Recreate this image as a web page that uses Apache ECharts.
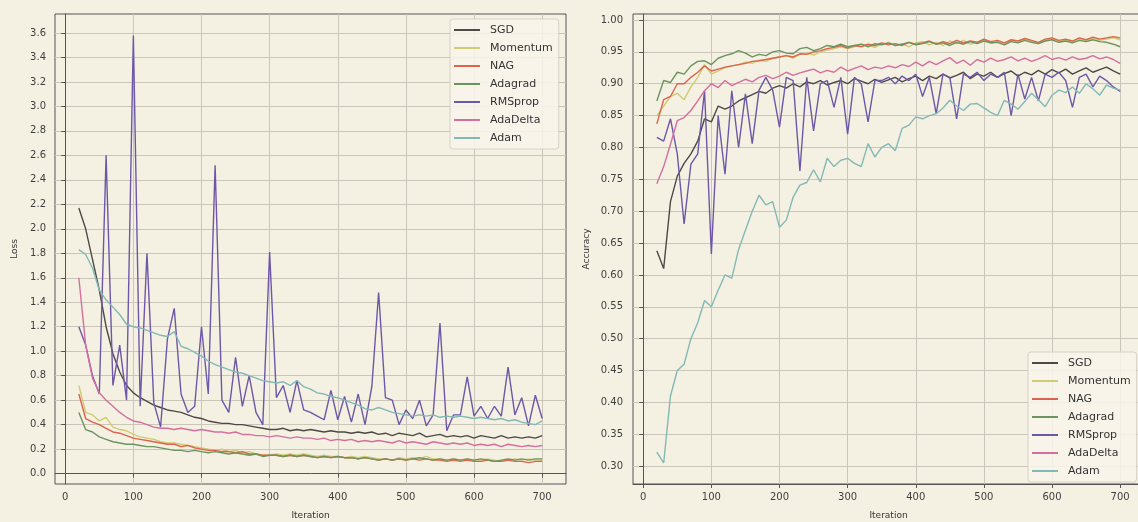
<!DOCTYPE html>
<html>
<head>
<meta charset="utf-8">
<script src="https://cdn.jsdelivr.net/npm/echarts@6/dist/echarts.min.js"></script>
<style>
  html, body { margin: 0; padding: 0; background: #f4f0e2; }
  #chart { width: 1138px; height: 522px; }
</style>
</head>
<body>
<div id="chart"></div>
<script>
  // iterations (x values)
  const iterations = [
    20, 30, 40, 50, 60, 70, 80, 90, 100, 110,
    120, 130, 140, 150, 160, 170, 180, 190, 200, 210,
    220, 230, 240, 250, 260, 270, 280, 290, 300, 310,
    320, 330, 340, 350, 360, 370, 380, 390, 400, 410,
    420, 430, 440, 450, 460, 470, 480, 490, 500, 510,
    520, 530, 540, 550, 560, 570, 580, 590, 600, 610,
    620, 630, 640, 650, 660, 670, 680, 690, 700,
  ]
  const xTicks = [0, 100, 200, 300, 400, 500, 600, 700]
  const optimizers = ['SGD', 'Momentum', 'NAG', 'Adagrad', 'RMSprop', 'AdaDelta', 'Adam']
  const colors = ['#4b4a47', '#cfcb74', '#dc634c', '#6b9461', '#6f57a8', '#d46f9f', '#82b9b6']

  // ---- loss ----
  const lossSGD = [
    2.17, 2.0, 1.75, 1.5, 1.2, 0.98, 0.83, 0.72, 0.66, 0.62,
    0.59, 0.56, 0.54, 0.52, 0.51, 0.5, 0.48, 0.46, 0.45, 0.43,
    0.42, 0.41, 0.41, 0.40, 0.40, 0.39, 0.38, 0.37, 0.36, 0.36,
    0.37, 0.35, 0.36, 0.35, 0.36, 0.35, 0.34, 0.35, 0.34, 0.34,
    0.33, 0.34, 0.33, 0.34, 0.32, 0.33, 0.31, 0.33, 0.32, 0.31,
    0.33, 0.30, 0.31, 0.32, 0.30, 0.31, 0.30, 0.31, 0.29, 0.31,
    0.30, 0.29, 0.31, 0.29, 0.30, 0.29, 0.30, 0.29, 0.31,
  ]
  const lossMomentum = [
    0.72, 0.5, 0.48, 0.43, 0.46, 0.38, 0.36, 0.35, 0.32, 0.30,
    0.29, 0.28, 0.26, 0.25, 0.25, 0.24, 0.23, 0.22, 0.21, 0.20,
    0.19, 0.20, 0.18, 0.19, 0.17, 0.18, 0.16, 0.15, 0.15, 0.16,
    0.15, 0.16, 0.15, 0.16, 0.15, 0.14, 0.15, 0.14, 0.14, 0.13,
    0.14, 0.13, 0.14, 0.13, 0.12, 0.12, 0.11, 0.13, 0.12, 0.13,
    0.12, 0.14, 0.12, 0.12, 0.11, 0.12, 0.11, 0.12, 0.11, 0.11,
    0.12, 0.11, 0.10, 0.11, 0.12, 0.11, 0.12, 0.11, 0.11,
  ]
  const lossNAG = [
    0.65, 0.45, 0.42, 0.40, 0.37, 0.34, 0.33, 0.31, 0.29, 0.28,
    0.27, 0.26, 0.25, 0.24, 0.24, 0.22, 0.23, 0.21, 0.20, 0.19,
    0.19, 0.18, 0.18, 0.17, 0.18, 0.16, 0.16, 0.15, 0.15, 0.15,
    0.14, 0.15, 0.14, 0.15, 0.14, 0.13, 0.14, 0.13, 0.14, 0.13,
    0.13, 0.12, 0.13, 0.12, 0.11, 0.12, 0.11, 0.12, 0.11, 0.12,
    0.11, 0.12, 0.11, 0.11, 0.10, 0.11, 0.10, 0.11, 0.10, 0.10,
    0.11, 0.10, 0.10, 0.11, 0.10, 0.10, 0.09, 0.10, 0.10,
  ]
  const lossAdagrad = [
    0.5, 0.36, 0.34, 0.30, 0.28, 0.26, 0.25, 0.24, 0.24, 0.23,
    0.22, 0.22, 0.21, 0.20, 0.19, 0.19, 0.18, 0.19, 0.18, 0.17,
    0.18, 0.17, 0.16, 0.17, 0.16, 0.15, 0.16, 0.14, 0.15, 0.15,
    0.14, 0.15, 0.14, 0.15, 0.14, 0.13, 0.14, 0.13, 0.14, 0.13,
    0.13, 0.12, 0.13, 0.12, 0.11, 0.12, 0.11, 0.12, 0.11, 0.12,
    0.13, 0.12, 0.11, 0.12, 0.11, 0.12, 0.11, 0.12, 0.11, 0.12,
    0.11, 0.10, 0.11, 0.12, 0.11, 0.12, 0.11, 0.12, 0.12,
  ]
  const lossRMSprop = [
    1.2, 1.05, 0.8, 0.65, 2.6, 0.72, 1.05, 0.6, 3.58, 0.55,
    1.8, 0.58, 0.38, 1.1, 1.35, 0.65, 0.5, 0.55, 1.2, 0.65,
    2.52, 0.6, 0.5, 0.95, 0.55, 0.8, 0.5, 0.4, 1.81, 0.62,
    0.72, 0.5, 0.76, 0.52, 0.5, 0.47, 0.44, 0.68, 0.44, 0.63,
    0.42, 0.65, 0.40, 0.71, 1.48, 0.62, 0.6, 0.40, 0.52, 0.45,
    0.6, 0.39, 0.48, 1.23, 0.35, 0.48, 0.48, 0.79, 0.47, 0.55,
    0.45, 0.55, 0.47, 0.87, 0.48, 0.62, 0.39, 0.64, 0.45,
  ]
  const lossAdaDelta = [
    1.6, 1.05, 0.78, 0.66, 0.6, 0.55, 0.5, 0.46, 0.43, 0.42,
    0.40, 0.38, 0.37, 0.37, 0.36, 0.37, 0.36, 0.35, 0.36, 0.35,
    0.34, 0.34, 0.33, 0.34, 0.32, 0.32, 0.31, 0.31, 0.30, 0.31,
    0.30, 0.29, 0.30, 0.29, 0.29, 0.28, 0.29, 0.27, 0.28, 0.27,
    0.28, 0.26, 0.27, 0.26, 0.27, 0.26, 0.25, 0.27, 0.25, 0.26,
    0.25, 0.24, 0.26, 0.25, 0.24, 0.25, 0.24, 0.25, 0.23, 0.24,
    0.23, 0.24, 0.22, 0.24, 0.23, 0.22, 0.23, 0.22, 0.23,
  ]
  const lossAdam = [
    1.83, 1.79, 1.68, 1.5, 1.42, 1.36, 1.3, 1.22, 1.2, 1.19,
    1.17, 1.15, 1.13, 1.12, 1.16, 1.04, 1.02, 0.99, 0.96, 0.92,
    0.89, 0.87, 0.85, 0.83, 0.82, 0.8, 0.78, 0.76, 0.75, 0.74,
    0.75, 0.72, 0.76, 0.71, 0.69, 0.66, 0.65, 0.63, 0.62, 0.60,
    0.58, 0.56, 0.53, 0.52, 0.54, 0.52, 0.50, 0.49, 0.48, 0.47,
    0.48, 0.47, 0.48, 0.46, 0.47, 0.46, 0.47, 0.46, 0.45, 0.46,
    0.45, 0.44, 0.45, 0.43, 0.44, 0.42, 0.41, 0.40, 0.43,
  ]

  // ---- accuracy ----
  const accSGD = [
    0.638, 0.61, 0.715, 0.755, 0.775, 0.79, 0.81, 0.845, 0.84, 0.865,
    0.86, 0.865, 0.873, 0.878, 0.883, 0.888, 0.885, 0.893, 0.897, 0.893,
    0.9, 0.895, 0.903, 0.9, 0.905, 0.898, 0.902, 0.905, 0.9, 0.908,
    0.904, 0.9, 0.907, 0.902, 0.906, 0.91, 0.903, 0.908, 0.912, 0.905,
    0.912, 0.908, 0.915, 0.909, 0.913, 0.918, 0.908, 0.915, 0.912, 0.918,
    0.91, 0.916, 0.92, 0.912, 0.918, 0.914, 0.921, 0.915, 0.922, 0.917,
    0.923, 0.915, 0.92, 0.925, 0.918, 0.922, 0.926, 0.92, 0.915,
  ]
  const accMomentum = [
    0.85, 0.865, 0.88, 0.885, 0.875, 0.895, 0.91, 0.93, 0.915, 0.92,
    0.925, 0.928, 0.93, 0.934, 0.932, 0.937, 0.935, 0.94, 0.942, 0.944,
    0.94, 0.946, 0.948, 0.945, 0.95, 0.953, 0.955, 0.958, 0.955, 0.958,
    0.962, 0.96, 0.957, 0.962, 0.965, 0.96, 0.963, 0.958, 0.964, 0.966,
    0.961, 0.965, 0.96, 0.967, 0.963, 0.968, 0.962, 0.965, 0.969, 0.964,
    0.966, 0.962, 0.968, 0.965, 0.97, 0.966, 0.963, 0.968, 0.971, 0.966,
    0.969, 0.965, 0.97, 0.967, 0.972, 0.968, 0.97, 0.972, 0.969,
  ]
  const accNAG = [
    0.837, 0.875, 0.88, 0.9, 0.9, 0.91, 0.918, 0.928, 0.92, 0.923,
    0.926, 0.928, 0.93, 0.932, 0.935, 0.936, 0.938, 0.94, 0.942, 0.944,
    0.942, 0.947, 0.946, 0.95, 0.952, 0.955, 0.957, 0.96, 0.956, 0.96,
    0.958, 0.962, 0.96, 0.964, 0.961, 0.963, 0.96, 0.965, 0.962, 0.964,
    0.967, 0.962, 0.966, 0.963, 0.968, 0.964, 0.967, 0.965, 0.97, 0.966,
    0.968, 0.964, 0.969, 0.967, 0.971, 0.968, 0.965, 0.97, 0.972, 0.968,
    0.97, 0.967, 0.972, 0.969, 0.973, 0.97, 0.972, 0.974, 0.972,
  ]
  const accAdagrad = [
    0.873, 0.905, 0.902, 0.918, 0.915, 0.928, 0.935, 0.936, 0.93, 0.94,
    0.944, 0.947, 0.952, 0.948, 0.942, 0.946, 0.944, 0.95, 0.952, 0.948,
    0.947, 0.955, 0.957, 0.952, 0.955, 0.96, 0.958, 0.962, 0.958, 0.96,
    0.962, 0.958, 0.963, 0.961, 0.964, 0.96, 0.962, 0.965, 0.961, 0.963,
    0.966, 0.962, 0.964, 0.96, 0.965, 0.962, 0.966, 0.963, 0.967, 0.964,
    0.965, 0.961, 0.966, 0.964, 0.968, 0.965, 0.963, 0.967, 0.969, 0.965,
    0.967, 0.964, 0.968, 0.966, 0.969, 0.966, 0.965, 0.962, 0.958,
  ]
  const accRMSprop = [
    0.816, 0.81, 0.845, 0.79, 0.68, 0.774, 0.79, 0.889, 0.633, 0.85,
    0.758, 0.889, 0.80, 0.884, 0.806, 0.89, 0.91, 0.89, 0.832, 0.91,
    0.905, 0.763, 0.91, 0.826, 0.9, 0.905, 0.863, 0.91, 0.821, 0.91,
    0.9, 0.84, 0.905, 0.905, 0.91, 0.9, 0.912, 0.905, 0.915, 0.88,
    0.91, 0.853, 0.915, 0.91, 0.845, 0.915, 0.91, 0.918, 0.905, 0.915,
    0.91, 0.918, 0.85, 0.915, 0.876, 0.91, 0.873, 0.915, 0.91, 0.918,
    0.905, 0.863, 0.91, 0.915, 0.895, 0.912, 0.905, 0.895, 0.888,
  ]
  const accAdaDelta = [
    0.743, 0.77, 0.805, 0.842, 0.847, 0.858, 0.873, 0.889, 0.9, 0.894,
    0.905, 0.897, 0.902, 0.907, 0.903, 0.91, 0.913, 0.908, 0.912, 0.918,
    0.913, 0.917, 0.92, 0.923, 0.917, 0.921, 0.918, 0.926, 0.92, 0.924,
    0.928, 0.922, 0.926, 0.924, 0.928, 0.925, 0.93, 0.927, 0.934, 0.928,
    0.935, 0.93, 0.936, 0.941, 0.932, 0.937, 0.929, 0.938, 0.934, 0.94,
    0.935, 0.938, 0.942, 0.936, 0.94, 0.935, 0.939, 0.944, 0.938, 0.941,
    0.937, 0.942, 0.938, 0.94, 0.944, 0.939, 0.942, 0.938, 0.932,
  ]
  const accAdam = [
    0.322, 0.305, 0.41, 0.45, 0.46, 0.5, 0.525, 0.56, 0.55, 0.576,
    0.6, 0.595, 0.64, 0.67, 0.70, 0.725, 0.71, 0.715, 0.675, 0.686,
    0.722, 0.741, 0.745, 0.765, 0.746, 0.783, 0.77, 0.78, 0.783, 0.775,
    0.77, 0.806, 0.785, 0.80, 0.806, 0.795, 0.83, 0.835, 0.848, 0.845,
    0.85, 0.853, 0.862, 0.874, 0.865, 0.858, 0.868, 0.869, 0.862, 0.855,
    0.85, 0.874, 0.868, 0.86, 0.872, 0.885, 0.875, 0.864, 0.882, 0.89,
    0.886, 0.895, 0.885, 0.9, 0.892, 0.882, 0.898, 0.893, 0.89,
  ]

  const lossData = [lossSGD, lossMomentum, lossNAG, lossAdagrad, lossRMSprop, lossAdaDelta, lossAdam]
  const accData = [accSGD, accMomentum, accNAG, accAdagrad, accRMSprop, accAdaDelta, accAdam]

  const lossTicks = [0, 0.2, 0.4, 0.6, 0.8, 1.0, 1.2, 1.4, 1.6, 1.8, 2.0, 2.2, 2.4, 2.6, 2.8, 3.0, 3.2, 3.4, 3.6]
  const accTicks = [0.30, 0.35, 0.40, 0.45, 0.50, 0.55, 0.60, 0.65, 0.70, 0.75, 0.80, 0.85, 0.90, 0.95, 1.00]

  const pairs = ys => ys.map((y, i) => [iterations[i], y])

  const series = []
  optimizers.forEach((name, k) => {
    series.push({
      name: name,
      type: 'line',
      xAxisIndex: 0,
      yAxisIndex: 0,
      data: pairs(lossData[k]),
      showSymbol: false,
      lineStyle: { width: 1.4, color: colors[k] },
      itemStyle: { color: colors[k] },
    })
  })
  optimizers.forEach((name, k) => {
    series.push({
      name: name,
      type: 'line',
      xAxisIndex: 1,
      yAxisIndex: 1,
      data: pairs(accData[k]),
      showSymbol: false,
      lineStyle: { width: 1.4, color: colors[k] },
      itemStyle: { color: colors[k] },
    })
  })

  const tickText = { color: '#3f3f3f', fontSize: 10, fontFamily: 'DejaVu Sans' }
  const nameText = { color: '#333', fontSize: 9, fontFamily: 'DejaVu Sans' }
  const gridLine = { show: true, lineStyle: { color: '#cbc6ba', width: 1 } }
  const axisLine = { show: true, lineStyle: { color: '#555', width: 1 } }
  const tickFor = vals => ({ show: true, length: 4, lineStyle: { color: '#555' }, customValues: vals })

  const xAxisFor = idx => ({
    type: 'value',
    gridIndex: idx,
    min: -15,
    max: 735,
    splitNumber: 7,
    minInterval: 100,
    maxInterval: 100,
    name: 'Iteration',
    nameLocation: 'middle',
    nameGap: 27,
    nameTextStyle: nameText,
    axisLine: axisLine,
    axisTick: tickFor(xTicks),
    splitLine: gridLine,
    axisLabel: Object.assign({
      margin: 8,
      customValues: xTicks,
      formatter: v => String(v),
    }, tickText),
  })

  const legendFor = (left, top) => ({
    orient: 'vertical',
    left: left,
    top: top,
    data: optimizers,
    icon: 'rect',
    itemWidth: 26,
    itemHeight: 2,
    itemGap: 6,
    padding: [5, 6, 5, 4],
    backgroundColor: 'rgba(248,245,235,0.85)',
    borderColor: '#d6d2c6',
    borderWidth: 1,
    borderRadius: 3,
    textStyle: { color: '#333', fontSize: 11, lineHeight: 12, padding: [0, 0, 0, 5], fontFamily: 'DejaVu Sans' },
  })

  const option = {
    animation: false,
    backgroundColor: '#f4f0e2',
    grid: [
      { left: 55, top: 14, width: 511, height: 470, outerBoundsMode: 'none', show: true, borderColor: '#555', borderWidth: 1, backgroundColor: 'transparent' },
      { left: 633, top: 14, width: 511, height: 470, outerBoundsMode: 'none', show: true, borderColor: '#555', borderWidth: 1, backgroundColor: 'transparent' },
    ],
    legend: [legendFor(450, 19), legendFor(1028, 352)],
    xAxis: [xAxisFor(0), xAxisFor(1)],
    yAxis: [
      {
        type: 'value',
        gridIndex: 0,
        min: -0.085,
        max: 3.755,
        splitNumber: 19,
        minInterval: 0.2,
        maxInterval: 0.2,
        name: 'Loss',
        nameLocation: 'middle',
        nameGap: 36,
        nameTextStyle: nameText,
        axisLine: axisLine,
        axisTick: tickFor(lossTicks),
        splitLine: gridLine,
        axisLabel: Object.assign({
          margin: 9,
          customValues: lossTicks,
          formatter: v => v.toFixed(1),
        }, tickText),
      },
      {
        type: 'value',
        gridIndex: 1,
        min: 0.272,
        max: 1.0094,
        splitNumber: 15,
        minInterval: 0.05,
        maxInterval: 0.05,
        name: 'Accuracy',
        nameLocation: 'middle',
        nameGap: 42,
        nameTextStyle: nameText,
        axisLine: axisLine,
        axisTick: tickFor(accTicks),
        splitLine: gridLine,
        axisLabel: Object.assign({
          margin: 10,
          customValues: accTicks,
          formatter: v => v.toFixed(2),
        }, tickText),
      },
    ],
    series: series,
  }

  const chart = echarts.init(document.getElementById('chart'))
  chart.setOption(option)
</script>
</body>
</html>
